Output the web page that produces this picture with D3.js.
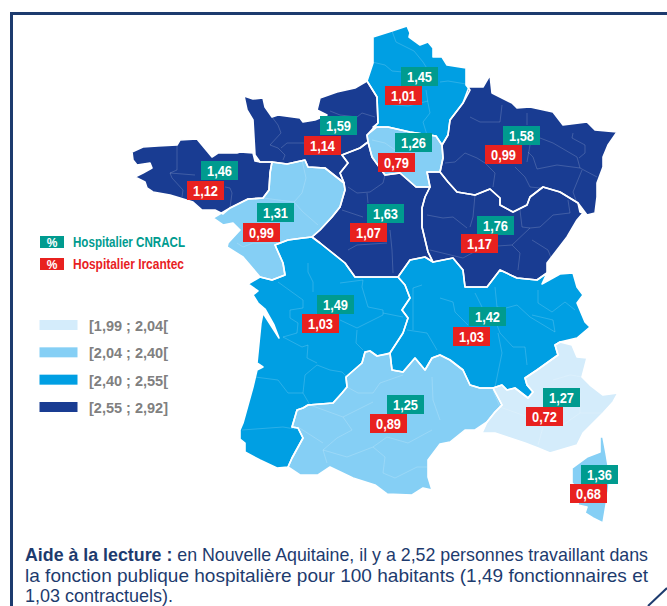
<!DOCTYPE html>
<html>
  <head>
    <meta charset="utf-8">
    <title>Fonction publique hospitalière</title>
    <script src="https://cdn.jsdelivr.net/npm/d3@7"></script>
    <style>
      html, body { margin: 0; padding: 0; background: #fff; overflow: hidden; }
      svg { display: block; }
      text { font-family: "Liberation Sans", sans-serif; }
    </style>
  </head>
  <body>
    <div id="main"></div>
  <script>
    var svgWidth = 667;
    var svgHeight = 606;

    // values
    var regions = ["Hauts-de-France", "Normandie", "Bretagne", "Île-de-France", "Grand Est",
      "Bourgogne-Franche-Comté", "Centre-Val de Loire", "Pays de la Loire", "Nouvelle-Aquitaine",
      "Auvergne-Rhône-Alpes", "Occitanie", "Provence-Alpes-Côte d'Azur", "Corse"];
    var cnracl = [1.45, 1.59, 1.46, 1.26, 1.58, 1.76, 1.63, 1.31, 1.49, 1.42, 1.25, 1.27, 1.36];
    var ircantec = [1.01, 1.14, 1.12, 0.79, 0.99, 1.17, 1.07, 0.99, 1.03, 1.03, 0.89, 0.72, 0.68];

    var classBreaks = [2.04, 2.40, 2.55];
    var classLabels = ["[1,99 ; 2,04[", "[2,04 ; 2,40[", "[2,40 ; 2,55[", "[2,55 ; 2,92]"];
    var classColors = ["#d4ecfb", "#85cff5", "#009fe3", "#193c92"];
    var seriesLabels = ["Hospitalier CNRACL", "Hospitalier Ircantec"];
    var seriesColors = ["#009b8f", "#e8211f"];

    // traced outlines, in map plane units
    var outlines = [
      [[373,37],[392,31],[407,26],[410,33],[409,37],[420,45],[428,42],[433,48],[433,57],[442,57],[447,65],[466,68],[466,78],[466,85],[470,90],[463,103],[450,120],[448,135],[442,145],[436,136],[410,132],[388,127],[373,127],[378,123],[377,97],[367,81],[373,63]],
      [[244,96],[253,99],[263,98],[265,107],[272,117],[278,115],[300,118],[303,122],[315,120],[327,115],[317,110],[320,98],[337,92],[355,88],[367,81],[377,97],[378,123],[367,135],[368,142],[360,148],[342,155],[348,163],[340,173],[344,183],[325,168],[308,167],[305,160],[287,164],[272,162],[260,162],[255,155],[253,120],[247,110]],
      [[132,152],[143,147],[158,146],[177,145],[180,140],[197,139],[212,157],[218,153],[237,153],[240,152],[253,153],[255,161],[260,162],[272,162],[270,173],[269,190],[263,198],[248,199],[230,208],[223,214],[215,210],[202,210],[193,202],[180,198],[170,195],[153,192],[147,188],[145,182],[135,177],[143,173],[152,168],[150,163],[137,165],[133,160]],
      [[367,135],[377,127],[388,127],[410,132],[436,136],[442,145],[443,158],[440,172],[427,172],[430,187],[416,187],[400,173],[385,175],[372,157],[368,142]],
      [[469,87],[483,87],[490,75],[492,93],[512,103],[517,108],[530,107],[553,112],[563,125],[587,122],[595,130],[617,132],[608,145],[603,157],[603,167],[597,183],[597,197],[595,213],[587,215],[578,203],[560,192],[543,187],[530,197],[527,205],[513,212],[500,205],[500,198],[490,189],[475,195],[457,192],[448,182],[440,172],[443,158],[442,145],[448,135],[450,120],[463,103]],
      [[427,172],[440,172],[448,182],[457,192],[475,195],[490,189],[500,198],[500,205],[513,212],[527,205],[530,197],[543,187],[560,192],[578,203],[580,212],[583,213],[577,220],[567,237],[557,250],[547,263],[547,273],[537,280],[517,278],[500,270],[487,287],[465,287],[463,270],[453,258],[433,262],[428,252],[422,227],[422,208],[425,197],[430,187]],
      [[344,183],[340,173],[348,163],[342,155],[360,148],[368,142],[372,157],[385,175],[400,173],[416,187],[430,187],[425,197],[422,208],[422,227],[428,252],[433,262],[425,257],[410,260],[398,277],[355,277],[345,263],[320,243],[312,237],[320,230],[332,217],[340,207],[345,190]],
      [[213,218],[230,208],[248,199],[263,198],[269,190],[270,173],[272,162],[287,164],[305,160],[308,167],[325,168],[344,183],[345,190],[340,207],[332,217],[320,230],[312,237],[303,238],[288,240],[275,245],[283,263],[285,275],[272,280],[260,277],[243,257],[227,247],[228,243],[240,230],[233,223],[223,225]],
      [[260,277],[272,280],[285,275],[283,263],[275,245],[288,240],[303,238],[312,237],[320,243],[345,263],[355,277],[398,277],[405,285],[410,298],[402,310],[408,318],[403,333],[390,353],[388,354],[377,356],[370,351],[365,352],[362,363],[346,377],[347,387],[342,393],[333,403],[308,405],[303,408],[297,410],[292,427],[298,428],[303,438],[292,458],[288,467],[277,468],[260,460],[245,452],[245,443],[240,439],[240,430],[243,423],[253,387],[257,370],[263,367],[257,363],[261,323],[263,313],[279,338],[274,325],[265,309],[258,303],[253,295],[258,291],[248,284]],
      [[398,277],[410,260],[425,257],[433,262],[453,258],[463,270],[465,287],[487,287],[500,270],[517,278],[537,280],[547,273],[542,284],[560,274],[573,273],[577,287],[583,295],[577,303],[585,322],[590,327],[577,338],[560,342],[555,345],[558,355],[537,370],[525,378],[527,385],[533,392],[528,398],[515,388],[507,390],[502,385],[493,388],[480,388],[470,385],[463,370],[450,360],[440,355],[432,358],[425,370],[415,358],[403,372],[392,370],[390,353],[403,333],[408,318],[402,310],[410,298],[405,285]],
      [[292,458],[303,438],[298,428],[292,427],[297,410],[303,408],[308,405],[333,403],[342,393],[347,387],[346,377],[362,363],[365,352],[370,351],[377,356],[390,353],[392,370],[403,372],[415,358],[425,370],[432,358],[440,355],[450,360],[463,370],[470,385],[480,388],[493,388],[502,405],[495,412],[487,422],[475,430],[465,430],[450,442],[440,444],[428,460],[428,477],[432,490],[423,488],[412,495],[387,494],[375,485],[353,478],[330,467],[318,475],[300,475],[288,467]],
      [[493,388],[502,385],[507,390],[515,388],[528,398],[533,392],[527,385],[525,378],[537,370],[558,355],[555,345],[560,342],[572,345],[577,357],[587,358],[582,377],[590,385],[603,395],[618,393],[613,402],[603,413],[583,433],[577,445],[550,453],[538,448],[525,443],[507,437],[495,433],[482,433],[487,422],[495,412],[502,405]],
      [[600,437],[603,437],[606,453],[610,477],[608,493],[603,523],[593,518],[585,513],[587,507],[578,505],[580,490],[572,483],[572,468],[587,457],[600,452]]
    ];

    // thin department lines inside the regions
    var departmentLines = [
      [[392,31],[396,42],[414,51],[423,62],[428,70]],
      [[372,62],[385,65],[392,71],[403,72]],
      [[440,82],[448,81],[466,84]],
      [[426,90],[428,103],[430,113],[423,122],[427,135]],
      [[385,104],[408,106],[428,101]],
      [[272,117],[278,125],[281,133],[270,145],[278,148],[285,155],[283,160]],
      [[281,148],[287,143],[312,143]],
      [[330,111],[340,115],[357,117],[362,113],[375,117]],
      [[177,145],[177,170],[170,173],[172,178],[183,190],[182,197]],
      [[170,173],[195,175]],
      [[225,187],[230,188],[232,193],[230,208]],
      [[372,140],[385,143],[395,150]],
      [[384,158],[392,172]],
      [[302,160],[306,178],[302,193],[294,202],[303,212],[318,225]],
      [[263,198],[294,202]],
      [[237,243],[243,247],[253,243],[277,243]],
      [[348,187],[357,193],[370,192],[383,183],[385,175]],
      [[367,193],[368,203]],
      [[390,230],[392,250],[393,273]],
      [[348,250],[357,245],[387,243]],
      [[342,210],[348,212],[363,217]],
      [[502,105],[500,122],[480,122],[470,117]],
      [[527,113],[527,125]],
      [[530,145],[527,162]],
      [[540,138],[553,143],[577,157],[580,168],[597,177]],
      [[580,168],[557,165],[537,169],[533,157],[528,152]],
      [[515,167],[525,177],[530,187],[540,188]],
      [[485,163],[495,173],[493,187]],
      [[445,163],[455,162],[465,153],[477,158],[485,163]],
      [[582,170],[573,192],[577,203]],
      [[573,133],[572,138],[585,145],[585,153],[579,158]],
      [[475,195],[473,217],[470,227]],
      [[427,215],[443,218],[453,217],[467,228]],
      [[430,250],[463,258],[483,247],[512,245]],
      [[512,245],[530,228],[522,227],[520,210]],
      [[530,228],[540,227],[553,215],[570,213],[568,200]],
      [[532,240],[548,250],[552,260]],
      [[512,245],[520,253],[518,270]],
      [[278,282],[303,300],[303,308],[290,310],[290,318],[298,323],[297,333],[283,337],[302,347],[308,345],[307,358],[317,363]],
      [[308,263],[308,272],[313,282],[313,292]],
      [[340,283],[363,280],[362,287],[368,307],[383,310],[383,315],[357,328],[340,320]],
      [[357,330],[356,343],[363,350]],
      [[383,313],[403,317]],
      [[317,365],[305,375],[303,393],[288,393],[278,380],[255,377]],
      [[317,365],[330,370],[342,372],[347,377]],
      [[303,393],[310,405]],
      [[242,430],[283,427],[295,429]],
      [[440,298],[453,302],[455,312],[468,325]],
      [[475,293],[482,307]],
      [[495,287],[497,307],[505,308]],
      [[497,325],[500,333],[513,347],[525,347],[527,365]],
      [[506,308],[517,305],[530,317],[555,332],[553,320],[532,315]],
      [[538,290],[538,303],[552,312],[565,302],[575,310]],
      [[498,333],[502,353],[495,387]],
      [[407,330],[427,333],[437,350]],
      [[413,330],[413,288],[422,285]],
      [[347,387],[358,393],[373,393],[380,383],[403,375]],
      [[310,405],[343,417],[352,430],[337,438],[323,450],[327,463]],
      [[373,402],[343,417]],
      [[298,427],[323,443]],
      [[373,447],[385,457],[383,473],[395,478],[417,467],[427,467]],
      [[373,447],[387,437],[408,443],[432,430]],
      [[323,450],[347,457],[373,447]],
      [[432,377],[433,400],[440,420]],
      [[493,390],[500,407],[528,417],[543,427],[538,445]],
      [[560,427],[580,413],[603,413]],
      [[553,380],[570,375],[583,377]],
      [[580,393],[580,413]]
    ];

    // badge anchors: top-left corner of the green and red boxes, same order as regions
    var cnraclAnchors = [[401,67],[320,116],[201,161],[395,133],[503,126],[477,216],[367,204],[257,203],[317,295],[469,307],[387,395],[543,388],[581,465]];
    var ircantecAnchors = [[385,86],[304,136],[187,181],[378,153],[485,145],[461,234],[350,223],[243,223],[302,314],[453,327],[370,414],[526,407],[570,484]];
    var badgeWidth = 37;
    var badgeHeight = 19;

    var noteLines = [
      [["Aide à la lecture : ", true], ["en Nouvelle Aquitaine, il y a 2,52 personnes travaillant dans", false]],
      [["la fonction publique hospitalière pour 100 habitants (1,49 fonctionnaires et", false]],
      [["1,03 contractuels).", false]]
    ];

    var svg = d3.select("#main")
      .append("svg")
      .attr("width", svgWidth)
      .attr("height", svgHeight);

    // frame of the box
    var frameColor = "#1d3b6e";
    svg.append("path")
      .attr("d", "M11.5,606 V13.5 H667")
      .style("fill", "none")
      .style("stroke", frameColor)
      .style("stroke-width", 3);
    svg.append("line")
      .attr("x1", 648).attr("y1", 606).attr("x2", 667).attr("y2", 588)
      .style("stroke", frameColor)
      .style("stroke-width", 2);

    var color = d3.scaleThreshold().domain(classBreaks).range(classColors);
    var fmt = function(v) { return d3.format(".2f")(v).replace(".", ","); };

    var features = regions.map(function(name, i) {
      return {
        type: "Feature",
        properties: { name: name, total: cnracl[i] + ircantec[i] },
        geometry: { type: "Polygon", coordinates: [outlines[i].concat([outlines[i][0]])] }
      };
    });
    var path = d3.geoPath(d3.geoIdentity());

    svg.append("g").selectAll("path")
      .data(features)
      .enter()
      .append("path")
      .attr("d", path)
      .style("fill", function(d) { return color(d.properties.total); });

    svg.append("path")
      .attr("d", path({ type: "MultiLineString", coordinates: departmentLines }))
      .style("fill", "none")
      .style("stroke", "#fff")
      .style("stroke-opacity", 0.22)
      .style("stroke-width", 0.8);

    svg.append("g").selectAll("path")
      .data(features)
      .enter()
      .append("path")
      .attr("d", path)
      .style("fill", "none")
      .style("stroke", "#fff")
      .style("stroke-width", 1.6)
      .style("stroke-linejoin", "round");

    // value badges
    function drawBadges(values, anchors, fill) {
      var g = svg.append("g").selectAll("g")
        .data(values)
        .enter()
        .append("g")
        .attr("transform", function(d, i) { return "translate(" + anchors[i][0] + "," + anchors[i][1] + ")"; });
      g.append("rect")
        .attr("width", badgeWidth)
        .attr("height", badgeHeight)
        .style("fill", fill);
      g.append("text")
        .attr("x", 6)
        .attr("y", 15)
        .attr("textLength", 25)
        .attr("lengthAdjust", "spacingAndGlyphs")
        .style("font-size", "15.5px")
        .style("font-weight", "bold")
        .style("fill", "#fff")
        .text(fmt);
    }
    drawBadges(cnracl, cnraclAnchors, seriesColors[0]);
    drawBadges(ircantec, ircantecAnchors, seriesColors[1]);

    // series legend
    var seriesY = d3.scalePoint().domain(seriesLabels).range([236, 258]);
    var seriesLengths = [112, 111];
    var seriesLegend = svg.append("g").selectAll("g")
      .data(seriesLabels)
      .enter()
      .append("g")
      .attr("transform", function(d) { return "translate(40," + seriesY(d) + ")"; });
    seriesLegend.append("rect")
      .attr("width", 24)
      .attr("height", 12)
      .style("fill", function(d, i) { return seriesColors[i]; });
    seriesLegend.append("text")
      .attr("x", 12)
      .attr("y", 10.5)
      .attr("text-anchor", "middle")
      .style("font-size", "12px")
      .style("font-weight", "bold")
      .style("fill", "#fff")
      .text("%");
    seriesLegend.append("text")
      .attr("x", 33)
      .attr("y", 11)
      .attr("textLength", function(d, i) { return seriesLengths[i]; })
      .attr("lengthAdjust", "spacingAndGlyphs")
      .style("font-size", "14.5px")
      .style("font-weight", "bold")
      .style("fill", function(d, i) { return seriesColors[i]; })
      .text(function(d) { return d; });

    // class legend
    var classY = d3.scalePoint().domain(classLabels).range([320, 402]);
    var classLegend = svg.append("g").selectAll("g")
      .data(classLabels)
      .enter()
      .append("g")
      .attr("transform", function(d) { return "translate(39.5," + classY(d) + ")"; });
    classLegend.append("rect")
      .attr("width", 38)
      .attr("height", 10)
      .style("fill", function(d, i) { return classColors[i]; });
    classLegend.append("text")
      .attr("x", 49.5)
      .attr("y", 11)
      .attr("textLength", 79)
      .attr("lengthAdjust", "spacingAndGlyphs")
      .style("font-size", "15px")
      .style("font-weight", "bold")
      .style("fill", "#808080")
      .text(function(d) { return d; });

    // reading note
    var noteY = [561, 582, 602];
    var noteLengths = [623, 623, 148];
    noteLines.forEach(function(line, i) {
      var t = svg.append("text")
        .attr("x", 25)
        .attr("y", noteY[i])
        .attr("textLength", noteLengths[i])
        .attr("lengthAdjust", "spacingAndGlyphs")
        .style("font-size", "18.5px")
        .style("fill", frameColor);
      line.forEach(function(part) {
        t.append("tspan")
          .style("font-weight", part[1] ? "bold" : "normal")
          .text(part[0]);
      });
    });
  </script>
  </body>
</html>
